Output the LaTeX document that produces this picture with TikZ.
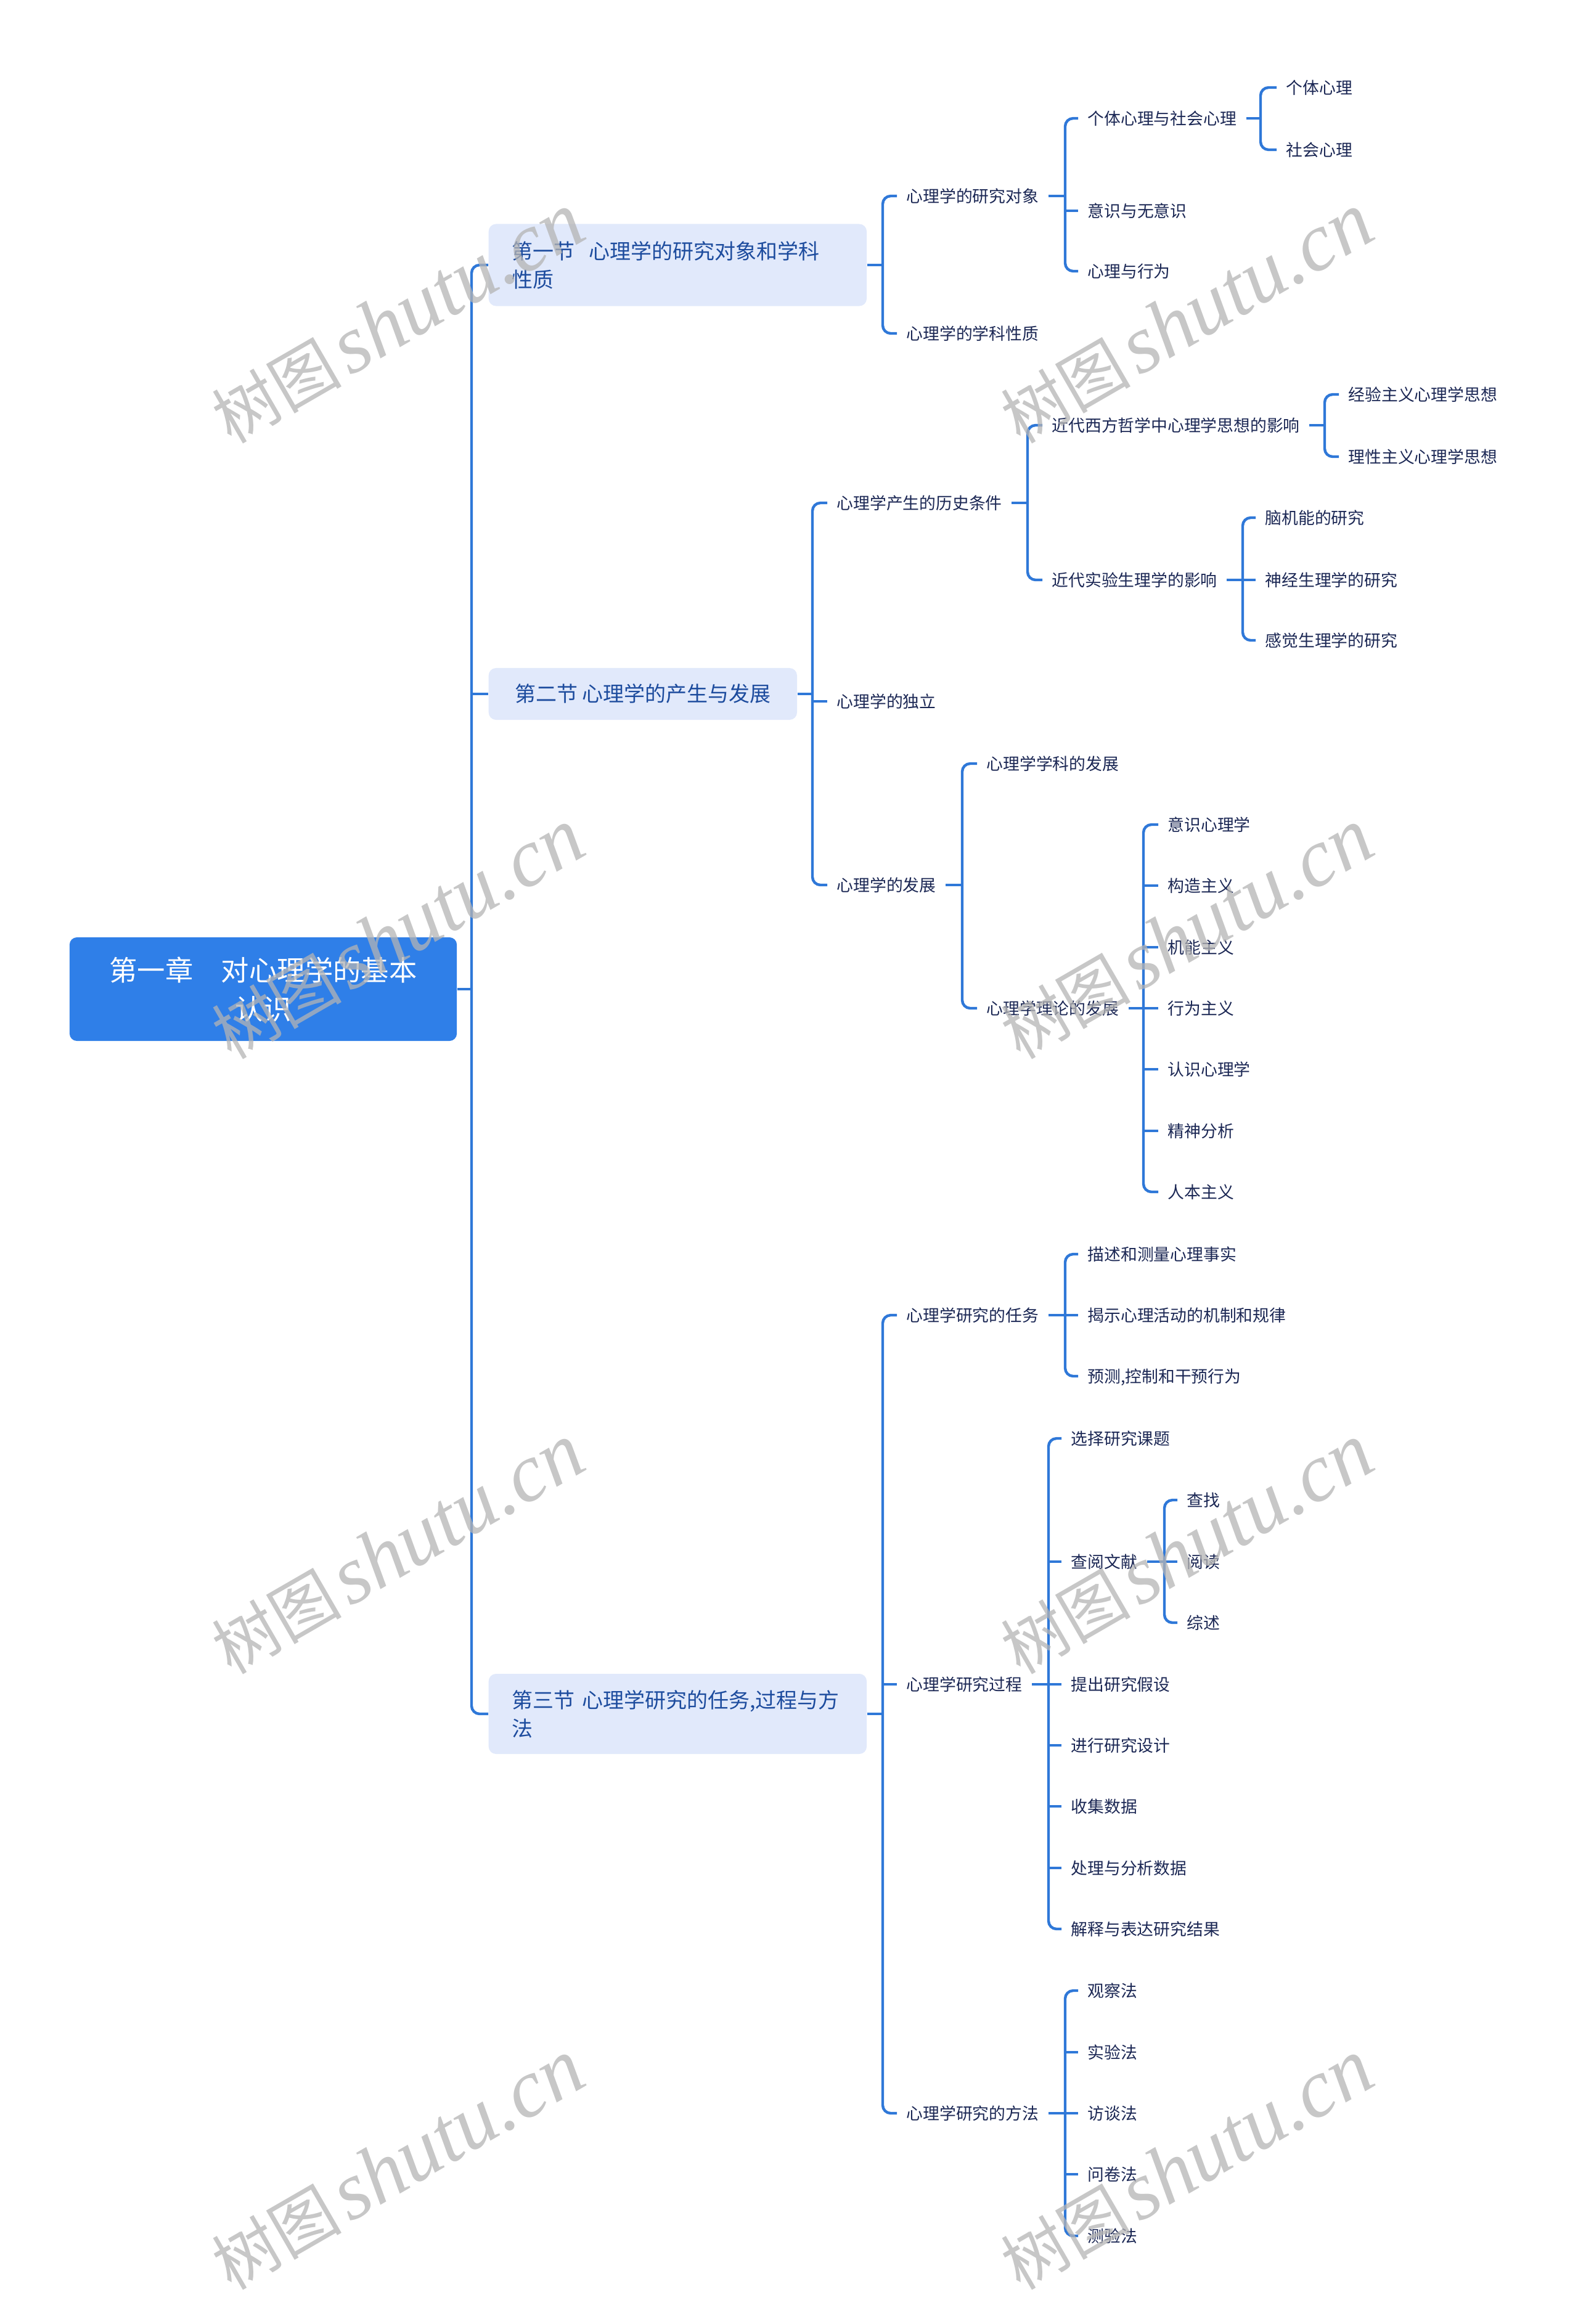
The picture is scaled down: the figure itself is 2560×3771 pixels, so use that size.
\documentclass[tikz,border=0pt]{standalone}
\usepackage{fontspec}
\newfontfamily\cjk{Noto Sans CJK SC}
\newfontfamily\wmlat{Liberation Serif}
\usetikzlibrary{calc}
\definecolor{linec}{HTML}{2F78D8}
\definecolor{rootc}{HTML}{2F7FE8}
\definecolor{secfill}{HTML}{E1E9FB}
\definecolor{sectext}{HTML}{1D4C9E}
\definecolor{leaftext}{HTML}{1B2754}
\definecolor{wmc}{HTML}{B4B4B4}
\newcommand\grpbr[5][0.15cm]{%
  \draw[conn] ([xshift=#1]#2.east) -- (#3 |- #2.east);
  \draw[conn,rounded corners=0.13cm] ([xshift=-0.15cm]#4.west) -- (#3 |- #4.west) -- (#3 |- #5.west) -- ([xshift=-0.15cm]#5.west);}
\newcommand\midstub[2]{\draw[conn] (#2 |- #1.west) -- ([xshift=-0.15cm]#1.west);}
\begin{document}
\begin{tikzpicture}[x=0.01cm,y=-0.01cm,
  conn/.style={draw=linec,line width=1.25pt},
  leaf/.style={anchor=west,inner sep=0pt,text=leaftext,font=\cjk\fontsize{7.62pt}{9pt}\selectfont,text height=6.9pt,text depth=1.1pt},
  rootbox/.style={fill=rootc,text=white,rounded corners=0.12cm,minimum width=6.28cm,minimum height=1.68cm,align=center,inner sep=0pt,font=\cjk\fontsize{12.9pt}{17.9pt}\selectfont},
  sec/.style={anchor=west,fill=secfill,rounded corners=0.12cm,text=sectext,font=\cjk\fontsize{9.67pt}{13.1pt}\selectfont,inner xsep=0.38cm,inner ysep=0pt,align=left},
  wm/.style={rotate=30,text=wmc,text opacity=0.75,inner sep=0pt}]
\useasboundingbox (0,0) rectangle (2560,3771);

% root and sections
\node[rootbox] (root) at (427,1605) {第一章　对心理学的基本\\认识};
\node[sec,text width=5.37cm,minimum height=1.33cm] (s1) at (792,430) {第一节\ \ 心理学的研究对象和学科\\性质};
\node[sec,minimum height=0.84cm,minimum width=5cm] (s2) at (792,1126) {第二节 心理学的产生与发展};
\node[sec,text width=5.37cm,minimum height=1.30cm] (s3) at (792,2781) {第三节 心理学研究的任务,过程与方\\法};

\coordinate (t) at (765,0);
\draw[conn] (root.east) -- (root.east -| t);
\draw[conn,rounded corners=0.13cm] (s1.west) -- (s1.west -| t) -- (s3.west -| t) -- (s3.west);
\draw[conn] (s2.west) -- (s2.west -| t);

% bracket x positions
\coordinate (k1) at (1432,0);
\coordinate (kA1) at (1728,0);
\coordinate (kA11) at (2045,0);
\coordinate (k2) at (1318,0);
\coordinate (kB1) at (1667,0);
\coordinate (kC1) at (2149,0);
\coordinate (kC2) at (2016,0);
\coordinate (kB3) at (1561,0);
\coordinate (kD2) at (1855,0);
\coordinate (k3) at (1432,0);
\coordinate (kE1) at (1728,0);
\coordinate (kE2) at (1701,0);
\coordinate (kE22) at (1889,0);
\coordinate (kE3) at (1728,0);

% section 1
\node[leaf] (A1) at (1470,318) {心理学的研究对象};
\node[leaf] (A2) at (1470,541) {心理学的学科性质};
\node[leaf] (A11) at (1764,192) {个体心理与社会心理};
\node[leaf] (A12) at (1764,342) {意识与无意识};
\node[leaf] (A13) at (1764,440) {心理与行为};
\node[leaf] (A111) at (2086,142) {个体心理};
\node[leaf] (A112) at (2086,243) {社会心理};

% section 2
\node[leaf] (B1) at (1357,816) {心理学产生的历史条件};
\node[leaf] (B2) at (1357,1138) {心理学的独立};
\node[leaf] (B3) at (1357,1436) {心理学的发展};
\node[leaf] (C1) at (1706,690) {近代西方哲学中心理学思想的影响};
\node[leaf] (C2) at (1706,941) {近代实验生理学的影响};
\node[leaf] (C11) at (2187,640) {经验主义心理学思想};
\node[leaf] (C12) at (2187,741) {理性主义心理学思想};
\node[leaf] (C21) at (2052,840) {脑机能的研究};
\node[leaf] (C22) at (2052,941) {神经生理学的研究};
\node[leaf] (C23) at (2052,1039) {感觉生理学的研究};
\node[leaf] (D1) at (1600,1239) {心理学学科的发展};
\node[leaf] (D2) at (1600,1636) {心理学理论的发展};
\node[leaf] (D21) at (1894,1338) {意识心理学};
\node[leaf] (D22) at (1894,1437) {构造主义};
\node[leaf] (D23) at (1894,1537) {机能主义};
\node[leaf] (D24) at (1894,1636) {行为主义};
\node[leaf] (D25) at (1894,1735) {认识心理学};
\node[leaf] (D26) at (1894,1835) {精神分析};
\node[leaf] (D27) at (1894,1934) {人本主义};

% section 3
\node[leaf] (E1) at (1470,2134) {心理学研究的任务};
\node[leaf] (E2) at (1470,2733) {心理学研究过程};
\node[leaf] (E3) at (1470,3429) {心理学研究的方法};
\node[leaf] (E11) at (1764,2035) {描述和测量心理事实};
\node[leaf] (E12) at (1764,2134) {揭示心理活动的机制和规律};
\node[leaf] (E13) at (1764,2233) {预测,控制和干预行为};
\node[leaf] (E21) at (1737,2334) {选择研究课题};
\node[leaf] (E22) at (1737,2534) {查阅文献};
\node[leaf] (E23) at (1737,2733) {提出研究假设};
\node[leaf] (E24) at (1737,2832) {进行研究设计};
\node[leaf] (E25) at (1737,2931) {收集数据};
\node[leaf] (E26) at (1737,3031) {处理与分析数据};
\node[leaf] (E27) at (1737,3130) {解释与表达研究结果};
\node[leaf] (F1) at (1925,2434) {查找};
\node[leaf] (F2) at (1925,2534) {阅读};
\node[leaf] (F3) at (1925,2633) {综述};
\node[leaf] (E31) at (1764,3230) {观察法};
\node[leaf] (E32) at (1764,3330) {实验法};
\node[leaf] (E33) at (1764,3429) {访谈法};
\node[leaf] (E34) at (1764,3528) {问卷法};
\node[leaf] (E35) at (1764,3628) {测验法};

% connectors
\grpbr[0cm]{s1}{k1}{A1}{A2}
\grpbr{A1}{kA1}{A11}{A13}
\midstub{A12}{kA1}
\grpbr{A11}{kA11}{A111}{A112}

\grpbr[0cm]{s2}{k2}{B1}{B3}
\midstub{B2}{k2}
\grpbr{B1}{kB1}{C1}{C2}
\grpbr{C1}{kC1}{C11}{C12}
\grpbr{C2}{kC2}{C21}{C23}
\midstub{C22}{kC2}
\grpbr{B3}{kB3}{D1}{D2}
\grpbr{D2}{kD2}{D21}{D27}
\foreach \n in {D22,D23,D24,D25,D26} {\midstub{\n}{kD2}}

\grpbr[0cm]{s3}{k3}{E1}{E3}
\midstub{E2}{k3}
\grpbr{E1}{kE1}{E11}{E13}
\midstub{E12}{kE1}
\grpbr{E2}{kE2}{E21}{E27}
\foreach \n in {E22,E23,E24,E25,E26} {\midstub{\n}{kE2}}
\grpbr{E22}{kE22}{F1}{F3}
\midstub{F2}{kE22}
\grpbr{E3}{kE3}{E31}{E35}
\foreach \n in {E32,E33,E34} {\midstub{\n}{kE3}}

% watermarks
\foreach \wx/\wy [count=\i] in {645/517,1925/517,645/1516,1925/1516,645/2514,1925/2514,645/3513,1925/3513}
  \node[wm] (wm\i) at (\wx,\wy) {{\cjk\fontsize{30pt}{30pt}\selectfont 树图} {\wmlat\itshape\fontsize{38pt}{38pt}\selectfont shutu.cn}};
\end{tikzpicture}
\end{document}
